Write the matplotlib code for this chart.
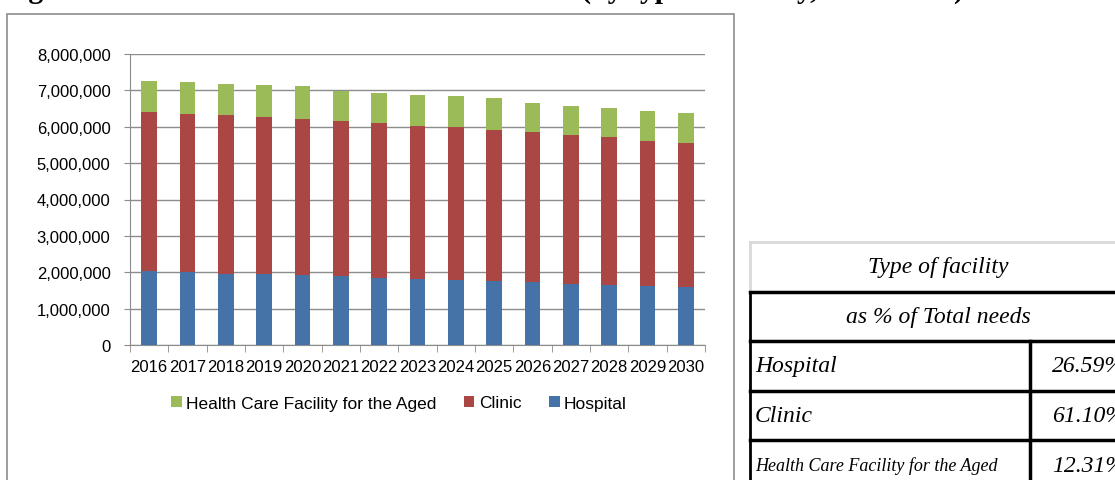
import numpy as np
import matplotlib
matplotlib.use("Agg")
import matplotlib.pyplot as plt
from matplotlib.lines import Line2D
from matplotlib.patches import Rectangle
from matplotlib.ticker import FuncFormatter

# needs per year, by type of facility
years = ['2016', '2017', '2018', '2019', '2020', '2021', '2022', '2023',
         '2024', '2025', '2026', '2027', '2028', '2029', '2030']
hospital = [2037000, 2010000, 1963000, 1945000, 1917000, 1890000, 1844000, 1826000,
            1800000, 1760000, 1734000, 1680000, 1660000, 1615000, 1596000]
clinic = [4363000, 4350000, 4347000, 4321000, 4303000, 4257000, 4256000, 4204000,
          4180000, 4157000, 4110000, 4100000, 4046000, 4000000, 3954000]
aged = [857000, 870000, 870000, 890000, 890000, 823000, 836000, 850000,
        855000, 873000, 806000, 800000, 804000, 825000, 840000]

table_rows = ['Hospital', 'Clinic', 'Health Care Facility for the Aged']
table_share = ['26.59%', '61.10%', '12.31%']

W, H = 1115, 481
fig = plt.figure(figsize=(W / 100, H / 100), dpi=100)
plt.rcParams['font.family'] = ['Liberation Sans', 'DejaVu Sans']

def fx(px):
    return px / W

def fy(py):
    return 1 - py / H

# chart frame
fig.patches.append(Rectangle((fx(7), fy(495)), fx(734) - fx(7), fy(15) - fy(495),
                             transform=fig.transFigure, fill=False,
                             edgecolor='#8c8c8c', lw=1.2))

ax = fig.add_axes([fx(130), fy(346), fx(705) - fx(130), fy(55) - fy(346)])
x = np.arange(len(years))
w = 0.41
b1 = ax.bar(x, hospital, w, color='#4572A7', zorder=3)
b2 = ax.bar(x, clinic, w, bottom=hospital, color='#AA4643', zorder=3)
base = np.array(hospital) + np.array(clinic)
b3 = ax.bar(x, aged, w, bottom=base, color='#9BBB59', zorder=3)

ax.set_xlim(-0.5, len(years) - 0.5)
ax.set_ylim(0, 8000000)
ax.set_yticks(np.arange(0, 8000001, 1000000))
ax.yaxis.set_major_formatter(FuncFormatter(lambda v, p: '{:,.0f}'.format(v)))
ax.grid(axis='y', color='#8c8c8c', lw=1, zorder=0)
for s in ['top', 'right']:
    ax.spines[s].set_visible(False)
for s in ['left', 'bottom']:
    ax.spines[s].set_color('#8c8c8c')
ax.set_xticks(x)
ax.set_xticklabels(years, family=['Liberation Sans Narrow', 'Liberation Sans'], fontsize=12)
ax.set_xticks(np.arange(-0.5, len(years)), minor=True)
ax.tick_params(axis='x', which='major', length=0, pad=10)
ax.tick_params(axis='x', which='minor', length=5, color='#8c8c8c')
ax.tick_params(axis='y', length=4, color='#8c8c8c', pad=10, labelsize=12)

fig.legend([b3, b2, b1], ['Health Care Facility for the Aged', 'Clinic', 'Hospital'],
           loc='center', bbox_to_anchor=(fx(399), fy(404)), ncol=3, frameon=False,
           handlelength=0.6, handleheight=0.6, handletextpad=0.25, columnspacing=1.6,
           fontsize=12.5)

# title line of the page, mostly above the top edge
fig.text(fx(2), fy(-2), 'Figure 1: Health care sector estimation needs (by type of facility, 2016-2030)',
         family='Liberation Serif', weight='bold', fontsize=21.4, ha='left', va='baseline')

# share table
serif = dict(family='Liberation Serif', style='italic')
fig.add_artist(Line2D([fx(750), fx(1115)], [fy(243), fy(243)], color='#d9d9d9', lw=2))
fig.add_artist(Line2D([fx(750), fx(750)], [fy(243), fy(293)], color='#d9d9d9', lw=2))
fig.add_artist(Line2D([fx(750), fx(750)], [fy(293), fy(490)], color='black', lw=2))
for yy in [293, 342, 392, 441]:
    fig.add_artist(Line2D([fx(750), fx(1115)], [fy(yy), fy(yy)], color='black', lw=2.5))
fig.add_artist(Line2D([fx(1030), fx(1030)], [fy(342), fy(490)], color='black', lw=2.5))

fig.text(fx(938), fy(268), 'Type of facility', ha='center', va='center', fontsize=17, **serif)
fig.text(fx(938), fy(318), 'as % of Total needs', ha='center', va='center', fontsize=17, **serif)
row_y = [367, 416, 466]
row_size = [17, 17, 13]
for name, share, yy, fs in zip(table_rows, table_share, row_y, row_size):
    fig.text(fx(755), fy(yy), name, ha='left', va='center', fontsize=fs, **serif)
    fig.text(fx(1052), fy(yy), share, ha='left', va='center', fontsize=17, **serif)

fig.savefig('out.png', dpi=100)
